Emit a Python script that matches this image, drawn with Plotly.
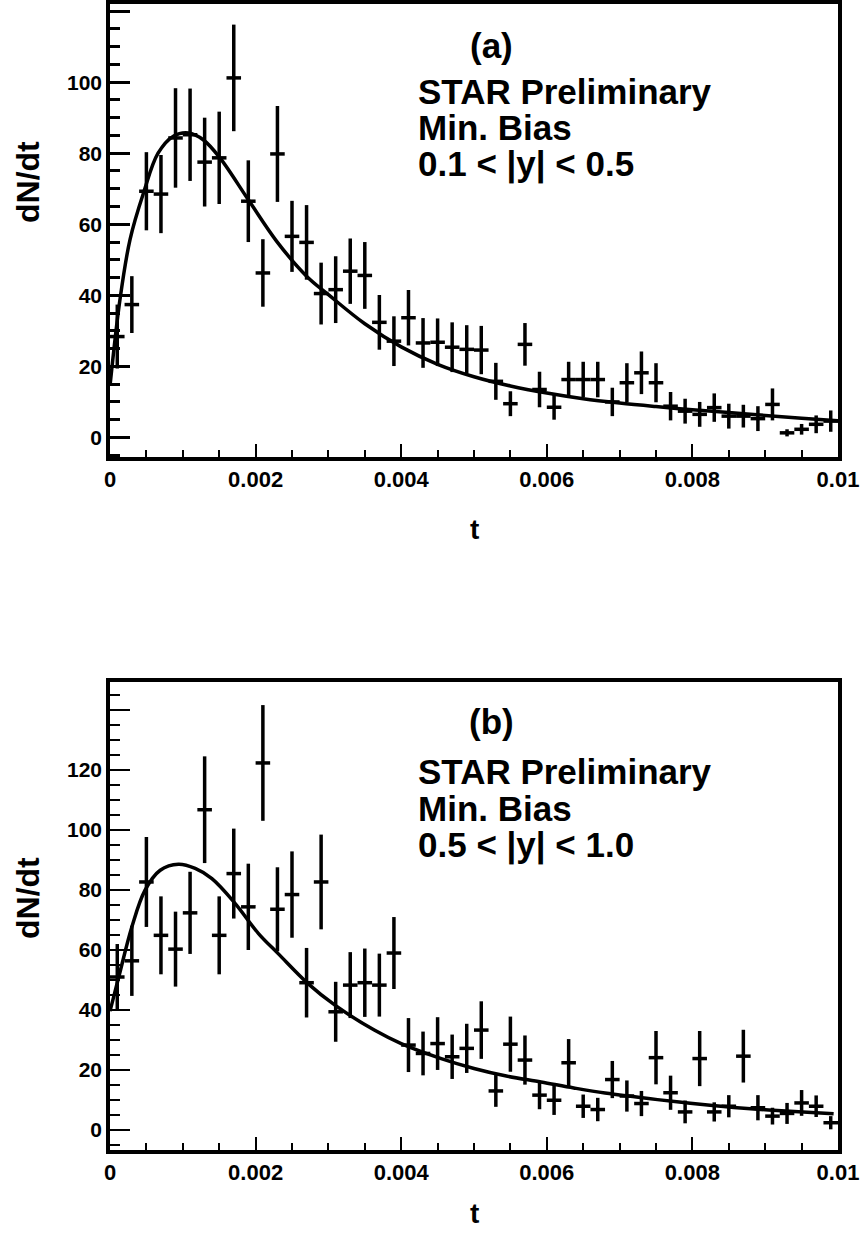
import plotly.graph_objects as go

# ---------------- data ----------------
T_CENTERS = [0.0001, 0.0003, 0.0005, 0.0007, 0.0009, 0.0011, 0.0013, 0.0015, 0.0017, 0.0019,
             0.0021, 0.0023, 0.0025, 0.0027, 0.0029, 0.0031, 0.0033, 0.0035, 0.0037, 0.0039,
             0.0041, 0.0043, 0.0045, 0.0047, 0.0049, 0.0051, 0.0053, 0.0055, 0.0057, 0.0059,
             0.0061, 0.0063, 0.0065, 0.0067, 0.0069, 0.0071, 0.0073, 0.0075, 0.0077, 0.0079,
             0.0081, 0.0083, 0.0085, 0.0087, 0.0089, 0.0091, 0.0093, 0.0095, 0.0097, 0.0099]
BIN_HALF_WIDTH = 0.0001

TOP_Y = [28.4, 37.4, 69.3, 68.5, 84.3, 85.2, 77.5, 78.7, 101.2, 66.5,
         46.3, 79.8, 56.6, 54.9, 40.5, 41.6, 46.8, 45.6, 32.4, 27.1,
         33.7, 26.6, 26.8, 25.4, 24.8, 24.6, 15.8, 9.5, 26.2, 13.5,
         8.5, 16.3, 16.3, 16.3, 10.0, 15.4, 18.2, 15.4, 8.8, 7.4,
         6.5, 8.4, 6.0, 6.0, 5.3, 9.3, 1.3, 2.3, 3.7, 4.6]
TOP_ERR = [9, 8, 11, 11, 14, 13, 12.5, 13, 15, 11.5,
           9.5, 13.5, 10, 10.5, 8.7, 9.4, 9.2, 9.4, 7.7, 7,
           7.8, 7, 6.7, 7, 6.8, 6.8, 5.2, 3.5, 6, 5,
           3.5, 5, 5, 5, 4, 5.5, 6, 5.5, 4, 3.5,
           3.5, 4, 3.5, 3.2, 3.5, 4.5, 1, 1.5, 2.5, 3]

BOT_Y = [50.9, 56.3, 82.6, 64.8, 60.2, 72.3, 106.7, 64.8, 85.4, 74.3,
         122.3, 73.5, 78.4, 49.0, 82.6, 39.3, 48.2, 49.0, 48.2, 58.9,
         28.2, 25.4, 28.7, 24.3, 27.1, 33.2, 12.9, 28.5, 23.2, 11.5,
         9.8, 22.3, 7.8, 6.7, 16.7, 11.2, 8.7, 24.0, 12.3, 5.9,
         23.7, 5.9, 7.8, 24.5, 7.3, 4.5, 5.4, 8.9, 7.8, 2.3]
BOT_ERR = [11, 11.7, 15, 13, 12.5, 13.7, 17.8, 13, 15, 14.4,
           19.3, 14, 14.4, 11.6, 15.8, 10, 11, 11.4, 10.5, 12,
           9, 7.3, 8.8, 7.4, 8.2, 9.6, 5.3, 9.2, 8.2, 4.7,
           4.9, 7.9, 3.9, 3.9, 6.2, 5.2, 4.2, 8.9, 5.7, 3.8,
           9.2, 3.2, 3.7, 8.8, 4.2, 2.8, 3.5, 4.3, 3.6, 2.2]

# fitted curves
TOP_FIT_T = [0.0, 0.000137, 0.000275, 0.00046, 0.00066, 0.00087, 0.00108, 0.00128, 0.00151,
             0.0019, 0.00229, 0.0027, 0.0030, 0.0035, 0.0040, 0.0045, 0.0050, 0.0055,
             0.0060, 0.0065, 0.0070, 0.0075, 0.0080, 0.0085, 0.0090, 0.0095, 0.0100]
TOP_FIT_Y = [14.5, 38.8, 55.7, 68.8, 80.0, 84.8, 85.7, 83.8, 78.7,
             66.9, 55.2, 45.4, 40.2, 32.0, 25.5, 20.6, 17.1, 14.5,
             12.5, 10.9, 9.7, 8.7, 7.8, 7.0, 6.2, 5.4, 4.7]

BOT_FIT_T = [0.0, 0.00012, 0.0003, 0.00048, 0.00069, 0.00094, 0.00117, 0.0014, 0.00172,
             0.00204, 0.00231, 0.00272, 0.00309, 0.00363, 0.004, 0.00455, 0.005, 0.00546,
             0.00592, 0.00637, 0.0068, 0.00752, 0.00797, 0.00843, 0.00889, 0.00934, 0.00994]
BOT_FIT_Y = [39.5, 50.9, 67.6, 79.8, 86.5, 88.5, 87.1, 83.7, 75.4,
             65.4, 58.7, 48.7, 41.5, 33.2, 28.7, 23.7, 20.4, 17.8,
             15.9, 13.9, 12.2, 10.0, 8.8, 7.7, 6.8, 6.1, 5.3]

X_TICKS = [0, 0.002, 0.004, 0.006, 0.008, 0.01]
X_TICK_TEXT = ["0", "0.002", "0.004", "0.006", "0.008", "0.01"]
TOP_Y_TICKS = [0, 20, 40, 60, 80, 100, 120]
TOP_Y_TEXT = ["0", "20", "40", "60", "80", "100", ""]
BOT_Y_TICKS = [0, 20, 40, 60, 80, 100, 120, 140]
BOT_Y_TEXT = ["0", "20", "40", "60", "80", "100", "120", ""]

TOP_LABELS = ["(a)", "STAR Preliminary", "Min. Bias", "0.1 < |y| < 0.5"]
BOT_LABELS = ["(b)", "STAR Preliminary", "Min. Bias", "0.5 < |y| < 1.0"]

# ---------------- figure ----------------
W, H = 867, 1241
FONT = "Liberation Sans, Arial, sans-serif"


def px(x):
    return x / W


def py(y):
    return 1 - y / H


fig = go.Figure()


def add_panel(yvals, yerr, fit_t, fit_y, xa, ya):
    fig.add_trace(go.Scatter(
        x=T_CENTERS, y=yvals, mode="markers", xaxis=xa, yaxis=ya,
        marker=dict(size=2, color="black"),
        error_y=dict(type="data", array=yerr, symmetric=True, thickness=3.5, width=0, color="black"),
        error_x=dict(type="constant", value=BIN_HALF_WIDTH, thickness=3.5, width=0, color="black"),
        showlegend=False, hoverinfo="skip"))
    fig.add_trace(go.Scatter(
        x=fit_t, y=fit_y, mode="lines", xaxis=xa, yaxis=ya,
        line=dict(color="black", width=3.5, shape="spline", smoothing=1.0),
        showlegend=False, hoverinfo="skip"))


add_panel(TOP_Y, TOP_ERR, TOP_FIT_T, TOP_FIT_Y, "x", "y")
add_panel(BOT_Y, BOT_ERR, BOT_FIT_T, BOT_FIT_Y, "x2", "y2")


def xaxis_cfg(domain, anchor):
    return dict(
        domain=domain, anchor=anchor, range=[0, 0.01], automargin=False,
        showline=True, linewidth=3.5, linecolor="black", mirror=True,
        ticks="inside", ticklen=13, tickwidth=1.5, tickcolor="black",
        tickmode="array", tickvals=X_TICKS, ticktext=X_TICK_TEXT,
        tickfont=dict(family=FONT, size=22, color="black", weight="bold"),
        showgrid=False, zeroline=False,
        minor=dict(ticks="inside", ticklen=7, tickwidth=1.5, tickcolor="black",
                   tickmode="linear", tick0=0, dtick=0.0005, showgrid=False),
    )


def yaxis_cfg(domain, anchor, rng, tv, tt, tw):
    return dict(
        domain=domain, anchor=anchor, range=rng, automargin=False,
        showline=True, linewidth=3.5, linecolor="black", mirror=True,
        ticks="inside", ticklen=20, tickwidth=tw, tickcolor="black",
        tickmode="array", tickvals=tv, ticktext=tt,
        tickfont=dict(family=FONT, size=21, color="black", weight="bold"),
        showgrid=False, zeroline=False,
        minor=dict(ticks="inside", ticklen=10, tickwidth=tw, tickcolor="black",
                   tickmode="linear", tick0=0, dtick=5, showgrid=False),
    )


XDOM = [px(110), px(838)]
TOP_DOM = [py(457), py(4)]
BOT_DOM = [py(1150), py(682)]

fig.update_layout(
    width=W, height=H, autosize=False,
    margin=dict(l=0, r=0, t=0, b=0),
    paper_bgcolor="white", plot_bgcolor="white",
    xaxis=xaxis_cfg(XDOM, "y"),
    yaxis=yaxis_cfg(TOP_DOM, "x", [-5.5, 122], TOP_Y_TICKS, TOP_Y_TEXT, 2.5),
    xaxis2=xaxis_cfg(XDOM, "y2"),
    yaxis2=yaxis_cfg(BOT_DOM, "x2", [-6.8, 149.3], BOT_Y_TICKS, BOT_Y_TEXT, 1.5),
)

ann = []


def txt(text, x, y, size, xanchor="left", angle=0):
    ann.append(dict(text=text, x=px(x), y=py(y), xref="paper", yref="paper",
                    xanchor=xanchor, yanchor="middle", showarrow=False, textangle=angle,
                    font=dict(family=FONT, size=size, color="black", weight="bold")))


# axis titles
txt("dN/dt", 28, 182, 32, xanchor="center", angle=-90)
txt("dN/dt", 28, 898, 32, xanchor="center", angle=-90)
txt("t", 474, 530, 28, xanchor="center")
txt("t", 474, 1213, 28, xanchor="center")

# in-panel labels
TOP_POS = [(491, 45), (416, 92), (416, 128), (416, 164)]
BOT_POS = [(491, 721), (416, 771), (416, 808), (416, 845)]
for i, (lab, (x, y)) in enumerate(zip(TOP_LABELS, TOP_POS)):
    txt(lab, x, y, 35, xanchor="center" if i == 0 else "left")
for i, (lab, (x, y)) in enumerate(zip(BOT_LABELS, BOT_POS)):
    txt(lab, x, y, 35, xanchor="center" if i == 0 else "left")

fig.update_layout(annotations=ann)
fig.write_html(
    "out.html",
    config={"displayModeBar": False},
    post_script="document.body.style.margin='0';document.body.style.padding='0';"
                "document.documentElement.style.overflow='hidden';",
)
